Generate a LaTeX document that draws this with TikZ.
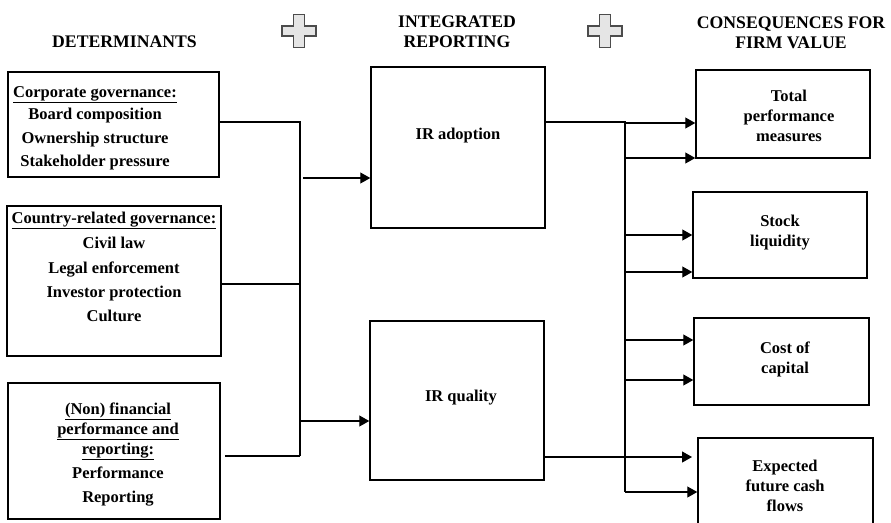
\documentclass[tikz,border=0pt]{standalone}
\usepackage{fontspec}
\setmainfont{Liberation Serif}
\usetikzlibrary{positioning, arrows.meta}

\tikzset{
  box/.style={draw, line width=1.5pt, inner sep=0pt},
  txt/.style={font=\fontsize{16.5}{20}\selectfont\bfseries, align=center, inner sep=0pt, anchor=north},
  head/.style={font=\fontsize{17.7}{20}\selectfont\bfseries, align=center, inner sep=0pt},
  link/.style={line width=1.2pt},
  arr/.style={line width=1.2pt, -{Triangle[length=10pt,width=11pt]}},
  plus/.style={fill=black!10, draw=black!70, line width=1.2pt}
}

\begin{document}
\begin{tikzpicture}[x=1pt, y=-1pt]
  \useasboundingbox (0,0) rectangle (891,522);

  % headings
  \node[head, anchor=base] (det) at (124.5,47) {DETERMINANTS};
  \node[head, anchor=north] (integ) at (457,16) {INTEGRATED\\REPORTING};
  \node[head, anchor=north] (cons) at (791,17) {CONSEQUENCES FOR\\FIRM VALUE};
  \foreach \cx in {299,605}
    \draw[plus, shift={(\cx,31)}] (-5.5,-16.5) -- (5.5,-16.5) -- (5.5,-5) -- (17,-5) -- (17,5)
      -- (5.5,5) -- (5.5,16.5) -- (-5.5,16.5) -- (-5.5,5) -- (-17,5) -- (-17,-5) -- (-5.5,-5) -- cycle;

  % determinants
  \node[box, minimum width=211pt, minimum height=105pt] (corp) at (113.5,124.5) {};
  \node[box, minimum width=214pt, minimum height=150pt] (country) at (114,281) {};
  \node[box, minimum width=212pt, minimum height=136pt] (nonfin) at (114,451) {};
  \node[txt] (corp-t) at (95,86.5) {\underline{Corporate governance:}\\[2pt]
    Board composition\\[4pt] Ownership structure\\[3pt] Stakeholder pressure};
  \node[txt] (country-t) at (114,211.5) {\underline{Country-related governance:}\\[5pt]
    Civil law\\[5pt] Legal enforcement\\[4pt] Investor protection\\[4pt] Culture};
  \node[txt] (nonfin-t) at (118,402.5) {\underline{(Non) financial}\\
    \underline{performance and}\\ \underline{reporting:}\\[4pt] Performance\\[4pt] Reporting};

  % integrated reporting
  \node[box, minimum width=174pt, minimum height=161pt] (adopt) at (458,147.5) {};
  \node[box, minimum width=174pt, minimum height=159pt] (quality) at (457,400.5) {};
  \node[txt] (adopt-t) at (458,127.5) {IR adoption};
  \node[txt] (quality-t) at (461,389.5) {IR quality};

  % consequences
  \node[box, minimum width=174pt, minimum height=88pt] (total) at (783,114) {};
  \node[box, minimum width=174pt, minimum height=86pt] (stock) at (780,235) {};
  \node[box, minimum width=175pt, minimum height=87pt] (cost) at (781.5,361.5) {};
  \node[box, minimum width=175pt, minimum height=102pt] (cash) at (785.5,489) {};
  \node[txt] (total-t) at (789,89.5) {Total\\ performance\\ measures};
  \node[txt] (stock-t) at (780,214.5) {Stock\\ liquidity};
  \node[txt] (cost-t) at (785,341.5) {Cost of\\ capital};
  \node[txt] (cash-t) at (785,459.5) {Expected\\ future cash\\ flows};

  % left bracket
  \coordinate (lb-top) at (300,122);
  \coordinate (lb-mid) at (300,284);
  \coordinate (lb-bot) at (300,456);
  \draw[link] (corp.east |- lb-top) -- (lb-top) -- (lb-bot);
  \draw[link] (country.east |- lb-mid) -- (lb-mid);
  \draw[link] ([xshift=4pt]nonfin.east |- lb-bot) -- (lb-bot);
  \coordinate (lb-a) at (303,178);
  \coordinate (lb-q) at (301,421);
  \draw[arr] (lb-a) -- (lb-a -| adopt.west);
  \draw[arr] (lb-q) -- (lb-q -| quality.west);

  % right bracket
  \coordinate (rb-top) at (625,122);
  \coordinate (rb-bot) at (625,492);
  \draw[link] (adopt.east |- rb-top) -- (rb-top) -- (rb-bot);
  \coordinate (cash-in) at (692,457);
  \draw[arr] (quality.east |- cash-in) -- (cash-in);
  \foreach \yy/\tgt in {123/total, 158/total, 235/stock, 272/stock, 340/cost, 380/cost, 492/cash}
    \draw[arr] (625,\yy) -- (\tgt.west |- 625,\yy);
\end{tikzpicture}
\end{document}
